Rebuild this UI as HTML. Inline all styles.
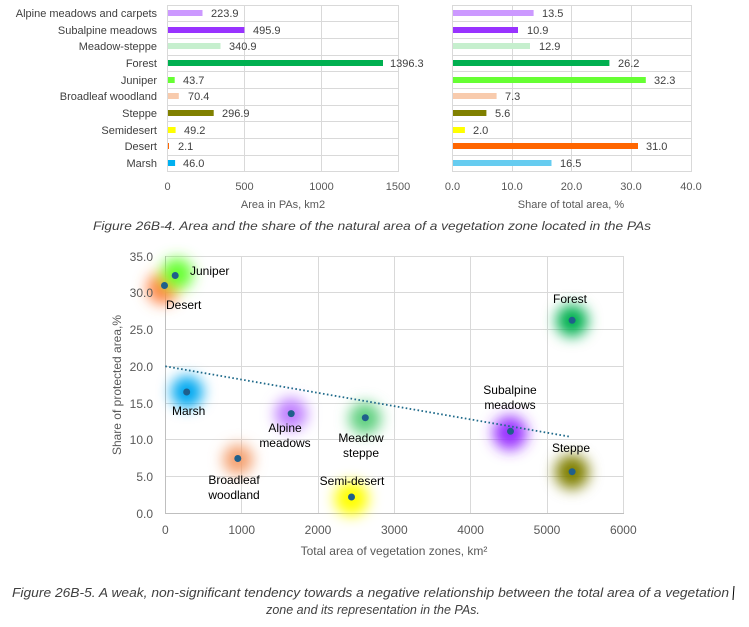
<!DOCTYPE html>
<html><head><meta charset="utf-8"><style>
html,body{margin:0;padding:0;background:#fff;}
svg{display:block;font-family:"Liberation Sans",sans-serif;}
</style></head><body>
<svg width="749" height="627" viewBox="0 0 749 627" xmlns="http://www.w3.org/2000/svg">
<defs>
<filter id="blur" x="-100%" y="-100%" width="300%" height="300%"><feGaussianBlur stdDeviation="7"/></filter>
</defs>
<g stroke="#d9d9d9" stroke-width="1" fill="none">
<path d="M167.5 5V172M244.5 5V172M321.5 5V172M398.5 5V172"/>
<path d="M167 5.5H399M167 21.5H399M167 38.5H399M167 55.5H399M167 71.5H399M167 88.5H399M167 105.5H399M167 121.5H399M167 138.5H399M167 155.5H399M167 171.5H399"/>
</g>
<g>
<rect x="168" y="10" width="34.5" height="6" fill="#cc99ff"/>
<rect x="168" y="27" width="76.4" height="6" fill="#9933ff"/>
<rect x="168" y="43" width="52.5" height="6" fill="#c6efce"/>
<rect x="168" y="60" width="215" height="6" fill="#00b050"/>
<rect x="168" y="77" width="6.7" height="6" fill="#66ff33"/>
<rect x="168" y="93" width="10.8" height="6" fill="#f8cbad"/>
<rect x="168" y="110" width="45.7" height="6" fill="#808000"/>
<rect x="168" y="127" width="7.6" height="6" fill="#ffff00"/>
<rect x="168" y="143" width="1" height="6" fill="#ff6600"/>
<rect x="168" y="160" width="7.1" height="6" fill="#00b0f0"/>
</g>
<g font-size="11" fill="#404040" text-anchor="end">
<text x="157" y="17">Alpine meadows and carpets</text>
<text x="157" y="34">Subalpine meadows</text>
<text x="157" y="50">Meadow-steppe</text>
<text x="157" y="67">Forest</text>
<text x="157" y="84">Juniper</text>
<text x="157" y="100">Broadleaf woodland</text>
<text x="157" y="117">Steppe</text>
<text x="157" y="134">Semidesert</text>
<text x="157" y="150">Desert</text>
<text x="157" y="167">Marsh</text>
</g>
<g font-size="11" fill="#404040">
<text x="211" y="17">223.9</text>
<text x="253" y="34">495.9</text>
<text x="229" y="50">340.9</text>
<text x="390" y="67">1396.3</text>
<text x="183" y="84">43.7</text>
<text x="188" y="100">70.4</text>
<text x="222" y="117">296.9</text>
<text x="184" y="134">49.2</text>
<text x="178" y="150">2.1</text>
<text x="183" y="167">46.0</text>
</g>
<g font-size="11" fill="#595959" text-anchor="middle">
<text x="167.5" y="190">0</text><text x="244.5" y="190">500</text><text x="321.5" y="190">1000</text><text x="398" y="190">1500</text>
<text x="283" y="208">Area in PAs, km2</text>
</g>
<g stroke="#d9d9d9" stroke-width="1" fill="none">
<path d="M452.5 5V172M512.5 5V172M571.5 5V172M631.5 5V172M691.5 5V172"/>
<path d="M452 5.5H692M452 21.5H692M452 38.5H692M452 55.5H692M452 71.5H692M452 88.5H692M452 105.5H692M452 121.5H692M452 138.5H692M452 155.5H692M452 171.5H692"/>
</g>
<g>
<rect x="453" y="10" width="80.6" height="6" fill="#cc99ff"/>
<rect x="453" y="27" width="65" height="6" fill="#9933ff"/>
<rect x="453" y="43" width="77" height="6" fill="#c6efce"/>
<rect x="453" y="60" width="156.4" height="6" fill="#00b050"/>
<rect x="453" y="77" width="192.8" height="6" fill="#66ff33"/>
<rect x="453" y="93" width="43.6" height="6" fill="#f8cbad"/>
<rect x="453" y="110" width="33.4" height="6" fill="#808000"/>
<rect x="453" y="127" width="11.9" height="6" fill="#ffff00"/>
<rect x="453" y="143" width="185" height="6" fill="#ff6600"/>
<rect x="453" y="160" width="98.5" height="6" fill="#66ccf0"/>
</g>
<g font-size="11" fill="#404040">
<text x="542" y="17">13.5</text>
<text x="527" y="34">10.9</text>
<text x="539" y="50">12.9</text>
<text x="618" y="67">26.2</text>
<text x="654" y="84">32.3</text>
<text x="505" y="100">7.3</text>
<text x="495" y="117">5.6</text>
<text x="473" y="134">2.0</text>
<text x="646" y="150">31.0</text>
<text x="560" y="167">16.5</text>
</g>
<g font-size="11" fill="#595959" text-anchor="middle">
<text x="452.5" y="190">0.0</text><text x="512" y="190">10.0</text><text x="571.5" y="190">20.0</text><text x="631" y="190">30.0</text><text x="691" y="190">40.0</text>
<text x="571" y="208">Share of total area, %</text>
</g>
<text x="93" y="230" font-size="12" font-style="italic" fill="#404040" textLength="558" lengthAdjust="spacingAndGlyphs">Figure 26B-4. Area and the share of the natural area of a vegetation zone located in the PAs</text>

<g stroke="#d9d9d9" stroke-width="1" fill="none">
<path d="M241.5 256V513M318.5 256V513M394.5 256V513M470.5 256V513M547.5 256V513M623.5 256V513"/>
<path d="M165 256.5H624M165 292.5H624M165 329.5H624M165 366.5H624M165 403.5H624M165 439.5H624M165 476.5H624"/>
<path d="M165.5 256V513.5H624" stroke="#bfbfbf"/>
</g>
<g filter="url(#blur)">
<circle cx="163" cy="288" r="16" fill="#ff8040"/>
<circle cx="177" cy="274" r="16" fill="#66ff33"/>
<circle cx="187" cy="392" r="16" fill="#00a8f0"/>
<circle cx="238" cy="459.6" r="15" fill="#f4a070"/>
<circle cx="291" cy="414" r="16" fill="#c080ff"/>
<circle cx="365" cy="418.5" r="16" fill="#60d080"/>
<circle cx="351.5" cy="498.6" r="17" fill="#ffff00"/>
<circle cx="510" cy="433" r="17" fill="#9933ff"/>
<circle cx="572" cy="320.7" r="16" fill="#00b050"/>
<circle cx="572" cy="472" r="17" fill="#808000"/>
</g>
<line x1="165.3" y1="366.3" x2="570" y2="436.7" stroke="#1f6a8a" stroke-width="1.8" stroke-dasharray="1.6 2.4"/>
<g fill="#1f5f8b">
<circle cx="175.2" cy="275.5" r="3.5"/><circle cx="164.5" cy="285.5" r="3.5"/>
<circle cx="186.7" cy="392" r="3.5"/><circle cx="237.8" cy="458.5" r="3.5"/>
<circle cx="291.2" cy="413.6" r="3.5"/><circle cx="365.3" cy="417.7" r="3.5"/>
<circle cx="351.5" cy="497" r="3.5"/><circle cx="510.5" cy="431.3" r="3.5"/>
<circle cx="572.1" cy="320.3" r="3.5"/><circle cx="572.1" cy="471.7" r="3.5"/>
</g>
<g font-size="12" fill="#000">
<text x="190" y="275">Juniper</text>
<text x="166" y="309">Desert</text>
<text x="172" y="415">Marsh</text>
<g text-anchor="middle">
<text x="285" y="432">Alpine</text><text x="285" y="447">meadows</text>
<text x="361" y="442">Meadow</text><text x="361" y="457">steppe</text>
<text x="234" y="484">Broadleaf</text><text x="234" y="499">woodland</text>
<text x="352" y="485">Semi-desert</text>
<text x="570" y="303">Forest</text>
<text x="510" y="394">Subalpine</text><text x="510" y="409">meadows</text>
<text x="571" y="452">Steppe</text>
</g>
</g>
<g font-size="12" fill="#595959" text-anchor="end">
<text x="153" y="261">35.0</text><text x="153" y="297">30.0</text><text x="153" y="334">25.0</text>
<text x="153" y="371">20.0</text><text x="153" y="408">15.0</text><text x="153" y="444">10.0</text>
<text x="153" y="481">5.0</text><text x="153" y="518">0.0</text>
</g>
<g font-size="12" fill="#595959" text-anchor="middle">
<text x="165.3" y="534">0</text><text x="241.7" y="534">1000</text><text x="318" y="534">2000</text>
<text x="394.3" y="534">3000</text><text x="470.6" y="534">4000</text><text x="547" y="534">5000</text><text x="623.3" y="534">6000</text>
<text x="394" y="555">Total area of vegetation zones, km²</text>
<text transform="translate(121 385) rotate(-90)">Share of protected area,%</text>
</g>
<g font-size="12.5" font-style="italic" fill="#404040">
<text x="12" y="597" textLength="717" lengthAdjust="spacingAndGlyphs">Figure 26B-5. A weak, non-significant tendency towards a negative relationship between the total area of a vegetation</text>
<text x="373" y="614" text-anchor="middle">zone and its representation in the PAs.</text>
</g>
<line x1="734" y1="586" x2="733" y2="600" stroke="#000" stroke-width="1"/>
</svg>
</body></html>
